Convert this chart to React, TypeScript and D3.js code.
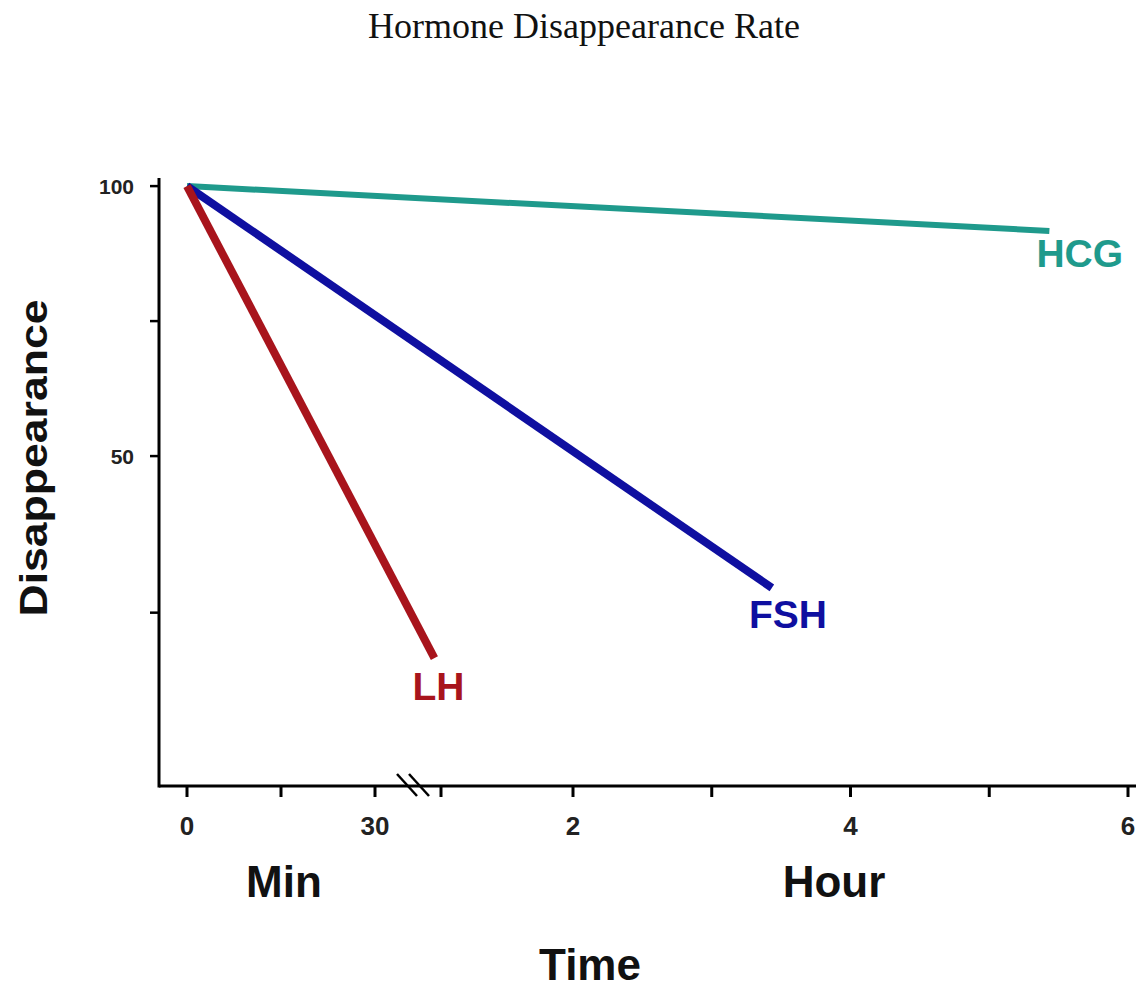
import { useEffect, useRef } from 'react'
import * as d3 from 'd3'

// Time is in minutes; the axis switches from minutes to hours after the break
const timeTicks = [0, 15, 30, 60, 120, 180, 240, 300, 360]
const timeTickLabels = ['0', '', '30', '', '2', '', '4', '', '6']

const valueTicks = [100, 75, 50, 21]
const valueTickLabels = ['100', '', '50', '']

const hormones = ['HCG', 'FSH', 'LH']
const hormoneColors = ['#1f9a8c', '#0f0fa0', '#a8141c']
const startTimes = [0, 0, 0]
const startValues = [100, 100, 100]
const endTimes = [326, 206, 57]
const endValues = [91.7, 25.6, 12.6]

const App = () => {
  const svgRef = useRef<SVGSVGElement | null>(null)

  useEffect(() => {
    if (!svgRef.current) return
    const width = 1136
    const height = 990
    const sans = '"Liberation Sans", Arial, sans-serif'

    d3.select(svgRef.current).selectAll('*').remove()
    const svg = d3.select(svgRef.current).attr('width', width).attr('height', height)

    // piecewise scale to mimic the broken axis (min -> hour)
    const xScale = d3.scaleLinear().domain([0, 30, 120, 360]).range([187, 375, 573, 1128])
    const yScale = d3.scaleLinear().domain([-11.1, 101.5]).range([786, 178])

    // Title
    svg
      .append('text')
      .attr('x', 584)
      .attr('y', 38)
      .attr('text-anchor', 'middle')
      .style('font-family', '"Liberation Serif", "Times New Roman", serif')
      .style('font-size', '36px')
      .style('fill', '#111')
      .text('Hormone Disappearance Rate')

    // Axes
    const x0 = xScale(0) - 28
    const y0 = yScale.range()[0]
    svg
      .append('line')
      .attr('x1', x0)
      .attr('x2', width)
      .attr('y1', y0)
      .attr('y2', y0)
      .attr('stroke', '#000')
      .attr('stroke-width', 3)
    svg
      .append('line')
      .attr('x1', x0)
      .attr('x2', x0)
      .attr('y1', yScale.range()[1])
      .attr('y2', y0 + 1.5)
      .attr('stroke', '#000')
      .attr('stroke-width', 3)

    // X ticks
    timeTicks.forEach((t, i) => {
      const x = xScale(t)
      svg
        .append('line')
        .attr('x1', x)
        .attr('x2', x)
        .attr('y1', y0)
        .attr('y2', y0 + 11)
        .attr('stroke', '#000')
        .attr('stroke-width', 3)
      if (timeTickLabels[i]) {
        svg
          .append('text')
          .attr('x', x)
          .attr('y', 835)
          .attr('text-anchor', 'middle')
          .style('font-family', sans)
          .style('font-weight', '700')
          .style('font-size', '26px')
          .style('fill', '#222')
          .text(timeTickLabels[i])
      }
    })

    // Axis break marks
    const bx = xScale(45) + 5
    ;[-6, 6].forEach((dx) => {
      svg
        .append('line')
        .attr('x1', bx + dx - 10)
        .attr('x2', bx + dx + 10)
        .attr('y1', y0 - 12)
        .attr('y2', y0 + 10)
        .attr('stroke', '#000')
        .attr('stroke-width', 2.5)
    })

    // Y ticks
    valueTicks.forEach((v, i) => {
      const y = yScale(v)
      svg
        .append('line')
        .attr('x1', x0 - 9)
        .attr('x2', x0)
        .attr('y1', y)
        .attr('y2', y)
        .attr('stroke', '#000')
        .attr('stroke-width', 2.5)
      if (valueTickLabels[i]) {
        svg
          .append('text')
          .attr('x', 134)
          .attr('y', y)
          .attr('dy', '0.36em')
          .attr('text-anchor', 'end')
          .style('font-family', sans)
          .style('font-weight', '700')
          .style('font-size', '21px')
          .style('fill', '#222')
          .text(valueTickLabels[i])
      }
    })

    // Lines
    const lineWidths = [6, 8, 8]
    const labelOffsets = [
      [-13, 36],
      [-23, 40],
      [-22, 42],
    ]
    hormones.forEach((h, i) => {
      svg
        .append('line')
        .attr('x1', xScale(startTimes[i]))
        .attr('y1', yScale(startValues[i]))
        .attr('x2', xScale(endTimes[i]))
        .attr('y2', yScale(endValues[i]))
        .attr('stroke', hormoneColors[i])
        .attr('stroke-width', lineWidths[i])
      svg
        .append('text')
        .attr('x', xScale(endTimes[i]) + labelOffsets[i][0])
        .attr('y', yScale(endValues[i]) + labelOffsets[i][1])
        .style('font-family', sans)
        .style('font-weight', '700')
        .style('font-size', '39px')
        .style('fill', hormoneColors[i])
        .text(h)
    })

    // Axis titles
    svg
      .append('text')
      .attr('transform', 'translate(47,458) rotate(-90)')
      .attr('text-anchor', 'middle')
      .attr('textLength', 317)
      .attr('lengthAdjust', 'spacingAndGlyphs')
      .style('font-family', sans)
      .style('font-weight', '700')
      .style('font-size', '39px')
      .style('fill', '#111')
      .text('Disappearance')

    const bigLabel = (text: string, x: number, y: number) =>
      svg
        .append('text')
        .attr('x', x)
        .attr('y', y)
        .attr('text-anchor', 'middle')
        .style('font-family', sans)
        .style('font-weight', '700')
        .style('font-size', '44px')
        .style('fill', '#111')
        .text(text)

    bigLabel('Min', 284, 897)
    bigLabel('Hour', 834, 897)
    bigLabel('Time', 590, 980)
  }, [])

  return (
    <div style={{ position: 'absolute', left: 0, top: 0, background: '#fff' }}>
      <svg ref={svgRef} style={{ display: 'block' }}></svg>
    </div>
  )
}

export default App
